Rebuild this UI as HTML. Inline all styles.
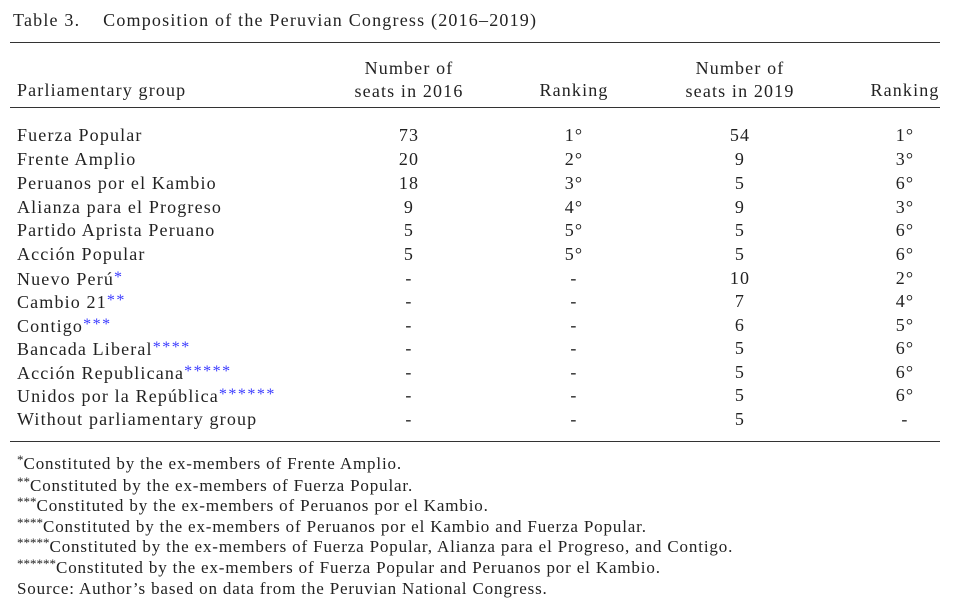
<!DOCTYPE html>
<html><head><meta charset="utf-8"><style>
body{margin:0;width:969px;height:611px;background:#fff;position:relative;overflow:hidden;font-family:"Liberation Serif",serif;color:#222;}
.t{position:absolute;font-size:18px;line-height:20px;letter-spacing:1.15px;white-space:nowrap;}
.c{transform:translateX(-50%);text-align:center;}
.f{position:absolute;left:17px;font-size:17px;line-height:20px;letter-spacing:0.85px;white-space:nowrap;}
.rule{position:absolute;left:10px;width:930px;height:1.4px;background:#333;}
.b{color:#3a3aff;font-size:16px;vertical-align:3px;letter-spacing:1.5px;}
sup{font-size:13px;vertical-align:5px;line-height:0;letter-spacing:0;}
</style></head><body>
<div class="t" style="left:13px;top:10px;letter-spacing:1.2px;">Table 3.&nbsp;&nbsp;&nbsp; Composition of the Peruvian Congress (2016–2019)</div>
<div class="rule" style="top:42px;"></div>
<div class="t" style="left:17px;top:80px;">Parliamentary group</div>
<div class="t c" style="left:409px;top:57px;line-height:23px;">Number of<br>seats in 2016</div>
<div class="t c" style="left:574px;top:80px;">Ranking</div>
<div class="t c" style="left:740px;top:57px;line-height:23px;">Number of<br>seats in 2019</div>
<div class="t c" style="left:905px;top:80px;">Ranking</div>
<div class="rule" style="top:107px;"></div>
<div id="rows"></div>
<div class="rule" style="top:441px;"></div>
<div class="f" style="top:454px;"><sup>*</sup>Constituted by the ex-members of Frente Amplio.</div>
<div class="f" style="top:476px;"><sup>**</sup>Constituted by the ex-members of Fuerza Popular.</div>
<div class="f" style="top:496px;"><sup>***</sup>Constituted by the ex-members of Peruanos por el Kambio.</div>
<div class="f" style="top:517px;"><sup>****</sup>Constituted by the ex-members of Peruanos por el Kambio and Fuerza Popular.</div>
<div class="f" style="top:537px;"><sup>*****</sup>Constituted by the ex-members of Fuerza Popular, Alianza para el Progreso, and Contigo.</div>
<div class="f" style="top:558px;"><sup>******</sup>Constituted by the ex-members of Fuerza Popular and Peruanos por el Kambio.</div>
<div class="f" style="top:579px;">Source: Author’s based on data from the Peruvian National Congress.</div>
<script>
const groups=["Fuerza Popular","Frente Amplio","Peruanos por el Kambio","Alianza para el Progreso","Partido Aprista Peruano","Acción Popular","Nuevo Perú","Cambio 21","Contigo","Bancada Liberal","Acción Republicana","Unidos por la República","Without parliamentary group"];
const marks=["","","","","","","*","**","***","****","*****","******",""];
const seats2016=["73","20","18","9","5","5","-","-","-","-","-","-","-"];
const rank2016=["1°","2°","3°","4°","5°","5°","-","-","-","-","-","-","-"];
const seats2019=["54","9","5","9","5","5","10","7","6","5","5","5","5"];
const rank2019=["1°","3°","6°","3°","6°","6°","2°","4°","5°","6°","6°","6°","-"];
const tops=[125,149,173,197,220,244,268,291,315,338,362,385,409];
const host=document.getElementById('rows');
function cell(txt,left,top,center,name){
  const d=document.createElement('div');
  d.className='t'+(center?' c':'');
  d.style.left=left+'px';d.style.top=top+'px';
  d.textContent=txt;
  
  
  host.appendChild(d);return d;
}
groups.forEach((g,i)=>{
  const d=cell(g,17,tops[i],false,'group-name');
  if(marks[i]){const s=document.createElement('span');s.className='b';s.textContent=marks[i];
    
    
    d.appendChild(s);}
  cell(seats2016[i],409,tops[i],true,'seats-2016');
  cell(rank2016[i],574,tops[i],true,'ranking-2016');
  cell(seats2019[i],740,tops[i],true,'seats-2019');
  cell(rank2019[i],905,tops[i],true,'ranking-2019');
});
</script>
</body></html>
